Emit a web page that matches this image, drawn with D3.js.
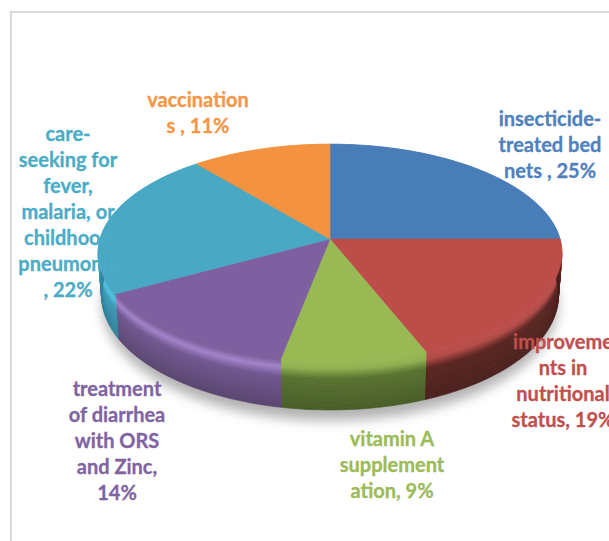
<!DOCTYPE html>
<html>
<head>
<meta charset="utf-8">
<script src="https://cdn.jsdelivr.net/npm/d3@7"></script>
<style>
  html, body { margin: 0; padding: 0; background: #fff; overflow: hidden; }
  text { font-family: Lato, "Open Sans", sans-serif; font-weight: 700; font-size: 20px; text-anchor: middle; }
</style>
</head>
<body>
<script>
// Data.
const categories = [
  "insecticide-treated bed nets",
  "improvements in nutritional status",
  "vitamin A supplementation",
  "treatment of diarrhea with ORS and Zinc",
  "care-seeking for fever, malaria, or childhood pneumonia",
  "vaccinations",
];
const values = [25, 19, 9, 14, 22, 11];
const labelLines = [
  ["insecticide-", "treated bed", "nets , 25%"],
  ["improveme", "nts in", "nutritional", "status, 19%"],
  ["vitamin A", "supplement", "ation, 9%"],
  ["treatment", "of diarrhea", "with ORS", "and Zinc,", "14%"],
  ["care-", "seeking for", "fever,", "malaria, or", "childhood", "pneumonia", ", 22%"],
  ["vaccination", "s , 11%"],
];

// Styles and layout.
const colors = ["#4f81bd", "#c0504d", "#9bbb59", "#8064a2", "#4bacc6", "#f79646"];
const topColors = ["#4a7db8", "#bc4e4a", "#99b955", "#7e5f9f", "#48a9c5", "#f3923f"];
const sideRamps = [
  ["#4a7db8", "#4a7db8", "#35597f", "#2c4a6c"],
  ["#bc4e4a", "#b44a46", "#59241f", "#4a1f1c"],
  ["#99b955", "#90b04f", "#58722f", "#465c27"],
  ["#7e5f9f", "#a583cc", "#6f5690", "#59446f"],
  ["#48a9c5", "#4cc4e6", "#3b9bb7", "#2f7f96"],
  ["#f3923f", "#f3923f", "#a8652c", "#8c5524"],
];
const labelAnchors = [
  [550, 126], [563, 349], [392, 446], [117, 396], [68, 141], [198, 107],
];
const lineHeight = 26;

const width = 609;
const height = 541;
const center = { x: 330, y: 239 };
const radius = 230;
const tilt = 107; // half height of the top face before perspective
const eye = 7.78; // viewer distance, in radii
const depth = 42;
const bottomShrink = 0.985;

const svg = d3
  .select("body")
  .append("svg")
  .attr("width", width)
  .attr("height", height)
  .style("display", "block");

const defs = svg.append("defs");
defs
  .append("filter")
  .attr("id", "soft")
  .attr("x", "-20%")
  .attr("y", "-20%")
  .attr("width", "140%")
  .attr("height", "140%")
  .append("feGaussianBlur")
  .attr("stdDeviation", 6);
defs
  .append("filter")
  .attr("id", "bevel")
  .append("feGaussianBlur")
  .attr("stdDeviation", 0.6);

// Chart frame, only the top and left edges are inside the picture.
const frame = svg.append("g").attr("class", "frame");
frame
  .append("path")
  .attr("d", d3.line()([[11, height], [11, 12], [width, 12]]))
  .attr("fill", "none")
  .attr("stroke", "#d9d9d9")
  .attr("stroke-width", 2);

// Perspective projection of a point on the pie rim.
function project(angle, level) {
  const u = Math.sin(angle);
  const v = -Math.cos(angle);
  const f = eye / (eye - v);
  const shrink = 1 - (1 - bottomShrink) * level;
  return [
    center.x + radius * u * f * shrink,
    center.y + tilt * v * f + depth * level * f,
  ];
}

function rim(startAngle, endAngle, level) {
  const steps = Math.max(2, Math.ceil((endAngle - startAngle) * 40));
  const angle = d3.scaleLinear().domain([0, steps]).range([startAngle, endAngle]);
  return d3.range(steps + 1).map((i) => project(angle(i), level));
}

const slices = d3
  .pie()
  .sort(null)
  .value((d) => d)(values);
const lineGen = d3.line();

// Shadow under the pie.
const fullRim = rim(0, 2 * Math.PI, 1.22);
svg
  .append("path")
  .attr("class", "shadow")
  .attr("d", lineGen(fullRim) + "Z")
  .attr("fill", "#000")
  .attr("fill-opacity", 0.3)
  .attr("filter", "url(#soft)");

// Sides, as thin bands so the shading follows the curve of the rim.
const bandCount = 28;
const bandLevel = d3.scaleLinear().domain([0, bandCount]).range([0, 1]);
const sides = svg.append("g").attr("class", "sides");
slices.forEach((s, i) => {
  const bandColor = d3
    .scaleLinear()
    .domain([0, 0.14, 0.34, 1])
    .range(sideRamps[i])
    .interpolate(d3.interpolateRgb);
  d3.range(bandCount).forEach((b) => {
    const upper = rim(s.startAngle, s.endAngle, bandLevel(b));
    const lower = rim(s.startAngle, s.endAngle, bandLevel(b + 1)).reverse();
    sides
      .append("path")
      .attr("d", lineGen(upper.concat(lower)) + "Z")
      .attr("fill", bandColor(bandLevel(b)))
      .attr("stroke", bandColor(bandLevel(b)))
      .attr("stroke-width", 0.6);
  });
});

// Top face.
const faces = svg.append("g").attr("class", "faces");
faces
  .selectAll("path")
  .data(slices)
  .enter()
  .append("path")
  .attr("d", (d) => {
    const points = [[center.x, center.y]].concat(rim(d.startAngle, d.endAngle, 0));
    return lineGen(points) + "Z";
  })
  .attr("fill", (d, i) => topColors[i])
  .attr("stroke", (d, i) => topColors[i])
  .attr("stroke-width", 0.5)
  .attr("filter", "url(#bevel)");

// Data labels.
const labels = svg.append("g").attr("class", "labels");
labelLines.forEach((lines, i) => {
  const label = labels
    .append("text")
    .attr("fill", colors[i])
    .attr("stroke", colors[i])
    .attr("stroke-width", 0.3)
    .attr("data-category", categories[i]);
  lines.forEach((line, k) => {
    label
      .append("tspan")
      .attr("x", labelAnchors[i][0])
      .attr("y", labelAnchors[i][1] + k * lineHeight)
      .text(line);
  });
});
</script>
</body>
</html>
